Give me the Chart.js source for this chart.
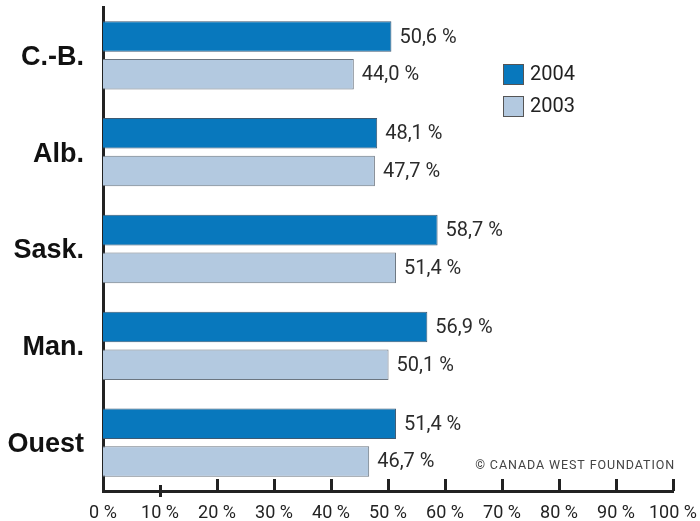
<!DOCTYPE html>
<html>
<head>
<meta charset="utf-8">
<script src="https://cdn.jsdelivr.net/npm/chart.js@4/dist/chart.umd.min.js"></script>
<style>
  html, body { margin: 0; padding: 0; background: #fff; }
  canvas { display: block; }
</style>
</head>
<body>
<canvas id="chart" width="700" height="521"></canvas>
<script>
const categories = ["C.-B.", "Alb.", "Sask.", "Man.", "Ouest"];
const values2004 = [50.6, 48.1, 58.7, 56.9, 51.4];
const values2003 = [44.0, 47.7, 51.4, 50.1, 46.7];
const seriesLabels = ["2004", "2003"];
const xMin = 0, xMax = 100, xStep = 10;
const creditText = "© CANADA WEST FOUNDATION";

const fmt = v => v.toFixed(1).replace(".", ",") + " %";

// value labels at the end of each bar
const valueLabels = {
  id: "valueLabels",
  afterDatasetsDraw(chart) {
    const ctx = chart.ctx;
    ctx.save();
    ctx.font = "20px Roboto";
    ctx.fillStyle = "#2b2b2b";
    ctx.textAlign = "left";
    ctx.textBaseline = "middle";
    chart.data.datasets.forEach((ds, i) => {
      chart.getDatasetMeta(i).data.forEach((bar, j) => {
        ctx.fillText(fmt(ds.data[j]), bar.x + 8, bar.y + 1);
      });
    });
    ctx.restore();
  }
};

// tick marks sit above the x axis line
const axisTicks = {
  id: "axisTicks",
  afterDraw(chart) {
    const ctx = chart.ctx;
    const xs = chart.scales.x;
    const bottom = chart.chartArea.bottom;
    ctx.save();
    ctx.strokeStyle = "#222";
    ctx.lineWidth = 3;
    xs.ticks.forEach(t => {
      if (t.value === xMin) return;
      const x = Math.round(xs.getPixelForValue(t.value)) + 0.5;
      ctx.beginPath();
      if (t.value === 10) {
        ctx.moveTo(x, bottom - 6);
        ctx.lineTo(x, bottom + 6);
      } else {
        ctx.moveTo(x, bottom - 12);
        ctx.lineTo(x, bottom);
      }
      ctx.stroke();
    });
    ctx.restore();
  }
};

// legend boxes on the right and the credit line
const sideLegend = {
  id: "sideLegend",
  afterDraw(chart) {
    const ctx = chart.ctx;
    ctx.save();
    chart.data.datasets.forEach((ds, i) => {
      const y = 64 + i * 32;
      ctx.fillStyle = ds.backgroundColor;
      ctx.fillRect(503, y, 21, 21);
      ctx.strokeStyle = "#555";
      ctx.lineWidth = 1;
      ctx.strokeRect(503.5, y + 0.5, 20, 20);
      ctx.fillStyle = "#222";
      ctx.font = "20px Roboto";
      ctx.textBaseline = "middle";
      ctx.textAlign = "left";
      ctx.fillText(ds.label, 530, y + 11);
    });
    ctx.font = "12.5px Roboto";
    ctx.letterSpacing = "0.9px";
    ctx.fillStyle = "#444";
    ctx.textAlign = "right";
    ctx.textBaseline = "middle";
    ctx.fillText(creditText, 675, 466);
    ctx.restore();
  }
};

new Chart(document.getElementById("chart"), {
  type: "bar",
  data: {
    labels: categories,
    datasets: [
      {
        label: seriesLabels[0],
        data: values2004,
        backgroundColor: "#0878bd",
        borderColor: "#3d5a73",
        borderWidth: 1,
        borderSkipped: "start"
      },
      {
        label: seriesLabels[1],
        data: values2003,
        backgroundColor: "#b3c9e0",
        borderColor: "#6b7580",
        borderWidth: 1,
        borderSkipped: "start"
      }
    ]
  },
  options: {
    indexAxis: "y",
    responsive: false,
    animation: false,
    layout: { padding: { top: 7, right: 27, left: 0, bottom: 0 } },
    datasets: { bar: { categoryPercentage: 0.78, barPercentage: 0.81 } },
    plugins: { legend: { display: false }, tooltip: { enabled: false } },
    scales: {
      x: {
        min: xMin,
        max: xMax,
        ticks: {
          stepSize: xStep,
          callback: v => v + " %",
          font: { family: "Roboto", size: 18 },
          color: "#222",
          padding: 12,
          maxRotation: 0
        },
        grid: { display: false, drawTicks: false },
        border: { display: true, color: "#222", width: 3 },
        afterFit: s => {
          s.height = 30;
          s.paddingLeft = 0;
          s.paddingRight = 0;
        }
      },
      y: {
        ticks: {
          font: { family: "Liberation Sans", size: 27, weight: "bold" },
          color: "#111",
          padding: 19,
          labelOffset: 2
        },
        grid: { display: false, drawTicks: false },
        border: { display: true, color: "#222", width: 3 },
        afterFit: s => {
          s.width = 103;
          s.paddingTop = 0;
          s.paddingBottom = 0;
        }
      }
    }
  },
  plugins: [valueLabels, axisTicks, sideLegend]
});
</script>
</body>
</html>
